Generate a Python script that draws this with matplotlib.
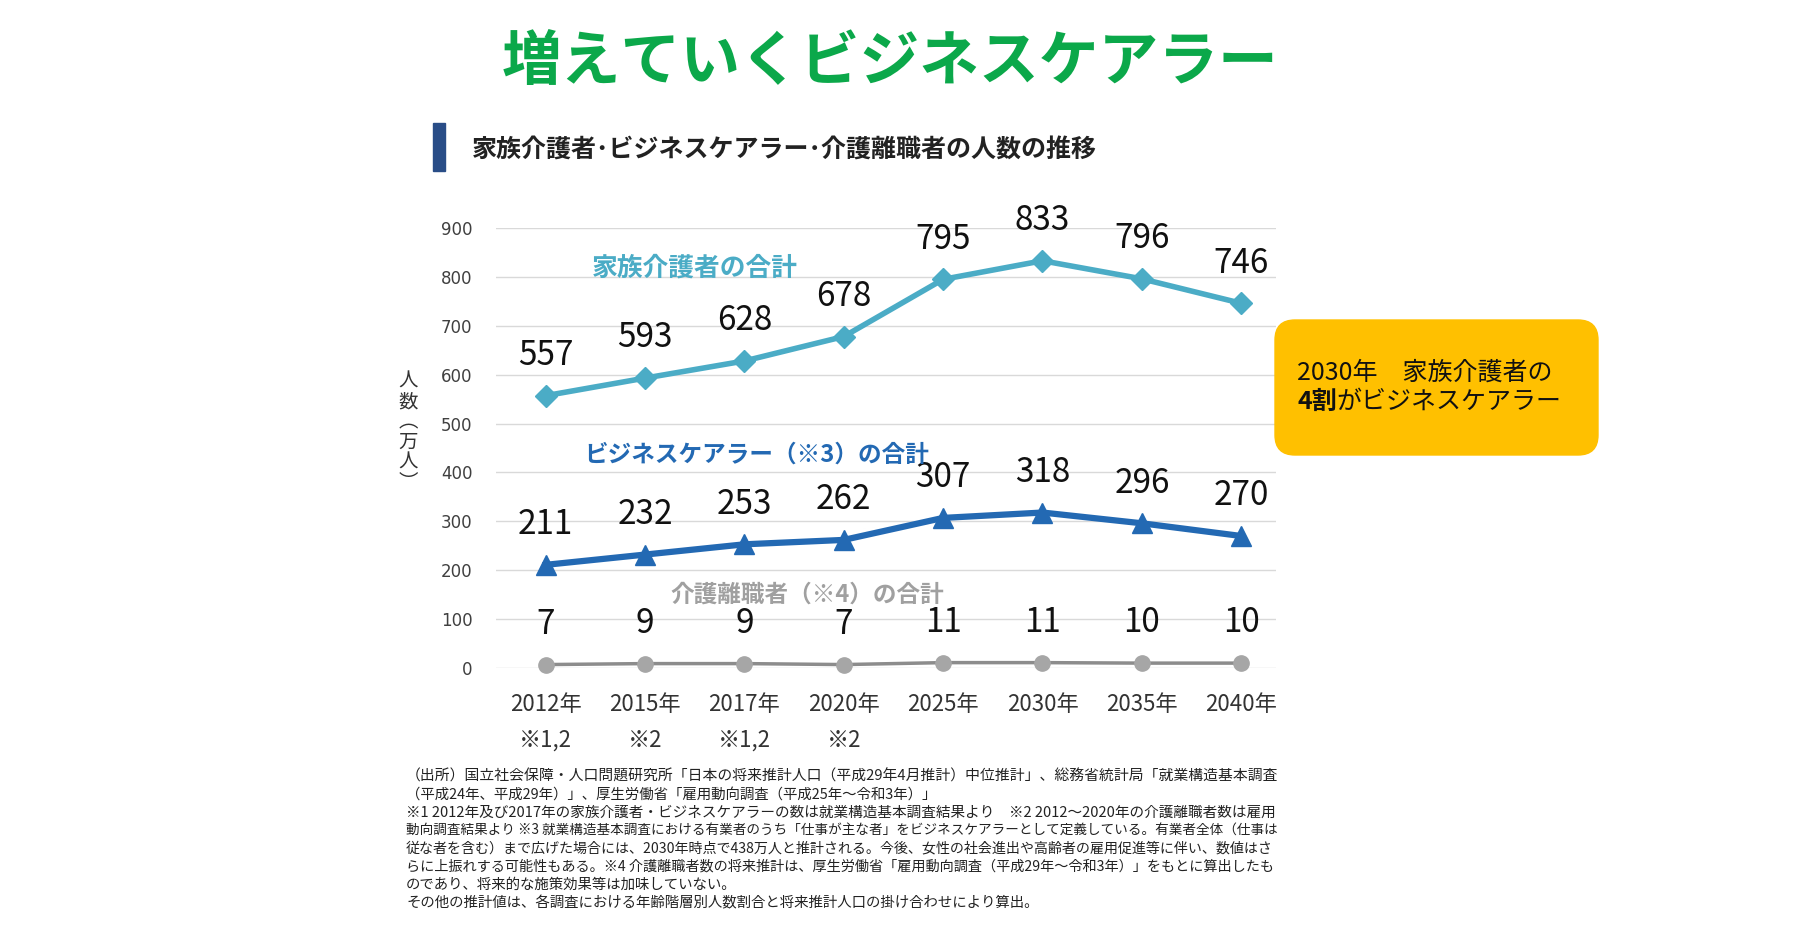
import matplotlib.pyplot as plt
from matplotlib.patches import FancyBboxPatch, Rectangle
from matplotlib.text import Annotation

plt.rcParams['font.family'] = ['Noto Sans CJK JP', 'DejaVu Sans']

years = ["2012年", "2015年", "2017年", "2020年", "2025年", "2030年", "2035年", "2040年"]
notes = ["※1,2", "※2", "※1,2", "※2", "", "", "", ""]
family = [557, 593, 628, 678, 795, 833, 796, 746]
business = [211, 232, 253, 262, 307, 318, 296, 270]
leave = [7, 9, 9, 7, 11, 11, 10, 10]
yticks = [0, 100, 200, 300, 400, 500, 600, 700, 800, 900]

footnote = [
    "（出所）国立社会保障・人口問題研究所「日本の将来推計人口（平成29年4月推計）中位推計」、総務省統計局「就業構造基本調査",
    "（平成24年、平成29年）」、厚生労働省「雇用動向調査（平成25年～令和3年）」",
    "※1 2012年及び2017年の家族介護者・ビジネスケアラーの数は就業構造基本調査結果より　※2 2012～2020年の介護離職者数は雇用",
    "動向調査結果より ※3 就業構造基本調査における有業者のうち「仕事が主な者」をビジネスケアラーとして定義している。有業者全体（仕事は",
    "従な者を含む）まで広げた場合には、2030年時点で438万人と推計される。今後、女性の社会進出や高齢者の雇用促進等に伴い、数値はさ",
    "らに上振れする可能性もある。※4 介護離職者数の将来推計は、厚生労働省「雇用動向調査（平成29年～令和3年）」をもとに算出したも",
    "のであり、将来的な施策効果等は加味していない。",
    "その他の推計値は、各調査における年齢階層別人数割合と将来推計人口の掛け合わせにより算出。",
]
full_lines = [0, 2, 3, 4, 5]  # lines justified to full width in the original

W, H = 1796, 925
fig = plt.figure(figsize=(W / 100, H / 100), dpi=100)

# title block
fig.text(890 / W, 1 - 63 / H, "増えていくビジネスケアラー", ha='center', va='center',
         fontsize=43, fontweight='bold', color='#0BA84A')
fig.add_artist(Rectangle((4.33, (H - 171) / 100), 0.12, 0.48,
                         transform=fig.dpi_scale_trans, color='#294D87'))
fig.text(472 / W, 1 - 151 / H, "家族介護者･ビジネスケアラー･介護離職者の人数の推移",
         ha='left', va='center', fontsize=18, fontweight='bold', color='#222222')

ax = fig.add_axes([496 / W, 1 - 668 / H, 780 / W, 440 / H])
x = list(range(len(years)))

ax.plot(x, family, color='#4BACC6', lw=4, marker='D', ms=11, clip_on=False, zorder=3)
ax.plot(x, business, color='#2369B3', lw=4.5, marker='^', ms=15, clip_on=False, zorder=3)
ax.plot(x, leave, color='#8C8C8C', lw=2.5, marker='o', ms=11, mfc='#A6A6A6', mec='#A6A6A6',
        clip_on=False, zorder=3)

for series in (family, business, leave):
    for xi, v in zip(x, series):
        ax.annotate(str(v), (xi, v), xytext=(0, 29), textcoords='offset points',
                    ha='center', va='center', fontsize=24, color='#111111')

ax.text(1.50, 818, "家族介護者の合計", ha='center', va='center', fontsize=18.5,
        fontweight='bold', color='#4BACC6')
ax.text(2.12, 436, "ビジネスケアラー（※3）の合計", ha='center', va='center', fontsize=17,
        fontweight='bold', color='#2369B3')
ax.text(2.63, 151, "介護離職者（※4）の合計", ha='center', va='center', fontsize=17,
        fontweight='bold', color='#A0A0A0')

ax.set_xlim(-0.5, 7.35)
ax.set_ylim(0, 900)
ax.set_yticks(yticks)
ax.set_yticklabels([str(t) for t in yticks], fontsize=12, color='#404040',
                   family='DejaVu Sans')
ax.set_xticks(x)
ax.set_xticklabels([])
ax.tick_params(length=0, axis='y', pad=17)
ax.tick_params(length=0, axis='x')
ax.grid(axis='y', color='#D9D9D9', lw=1)
ax.set_axisbelow(True)
for s in ax.spines.values():
    s.set_visible(False)

for xi, yr, n in zip(x, years, notes):
    ax.text(xi, -0.084, yr, transform=ax.get_xaxis_transform(), ha='center', va='center',
            fontsize=16, color='#333333')
    ax.text(xi, -0.164, n, transform=ax.get_xaxis_transform(), ha='center', va='center',
            fontsize=16, color='#333333')

fig.text(408 / W, 1 - 432 / H, "人\n数\n︵\n万\n人\n︶", ha='center', va='center',
         fontsize=14, color='#333333', linespacing=0.95)

# callout box
fig.add_artist(FancyBboxPatch((12.75, (H - 455) / 100), 3.23, 1.35,
                              boxstyle="round,pad=0,rounding_size=0.2",
                              transform=fig.dpi_scale_trans, color='#FFC000'))
fig.text(1297 / W, 1 - 373 / H, "2030年　家族介護者の", ha='left', va='center',
         fontsize=18, color='#111111')
t4 = fig.text(1297 / W, 1 - 402 / H, "4割", ha='left', va='center',
              fontsize=18, fontweight='bold', color='#111111')
fig.add_artist(Annotation("がビジネスケアラー", xy=(1, 0.5), xycoords=t4, ha='left',
                          va='center', fontsize=18, color='#111111'))

# footnote, full lines scaled to the original's justified width
renderer = fig.canvas.get_renderer()
for i, line in enumerate(footnote):
    t = fig.text(406 / W, 1 - (776 + i * 18.2) / H, line, ha='left', va='center',
                 fontsize=10.4, color='#222222')
    if i in full_lines:
        w = t.get_window_extent(renderer).width
        t.set_fontsize(10.4 * 866 / w)

fig.savefig("out.png", dpi=100)
